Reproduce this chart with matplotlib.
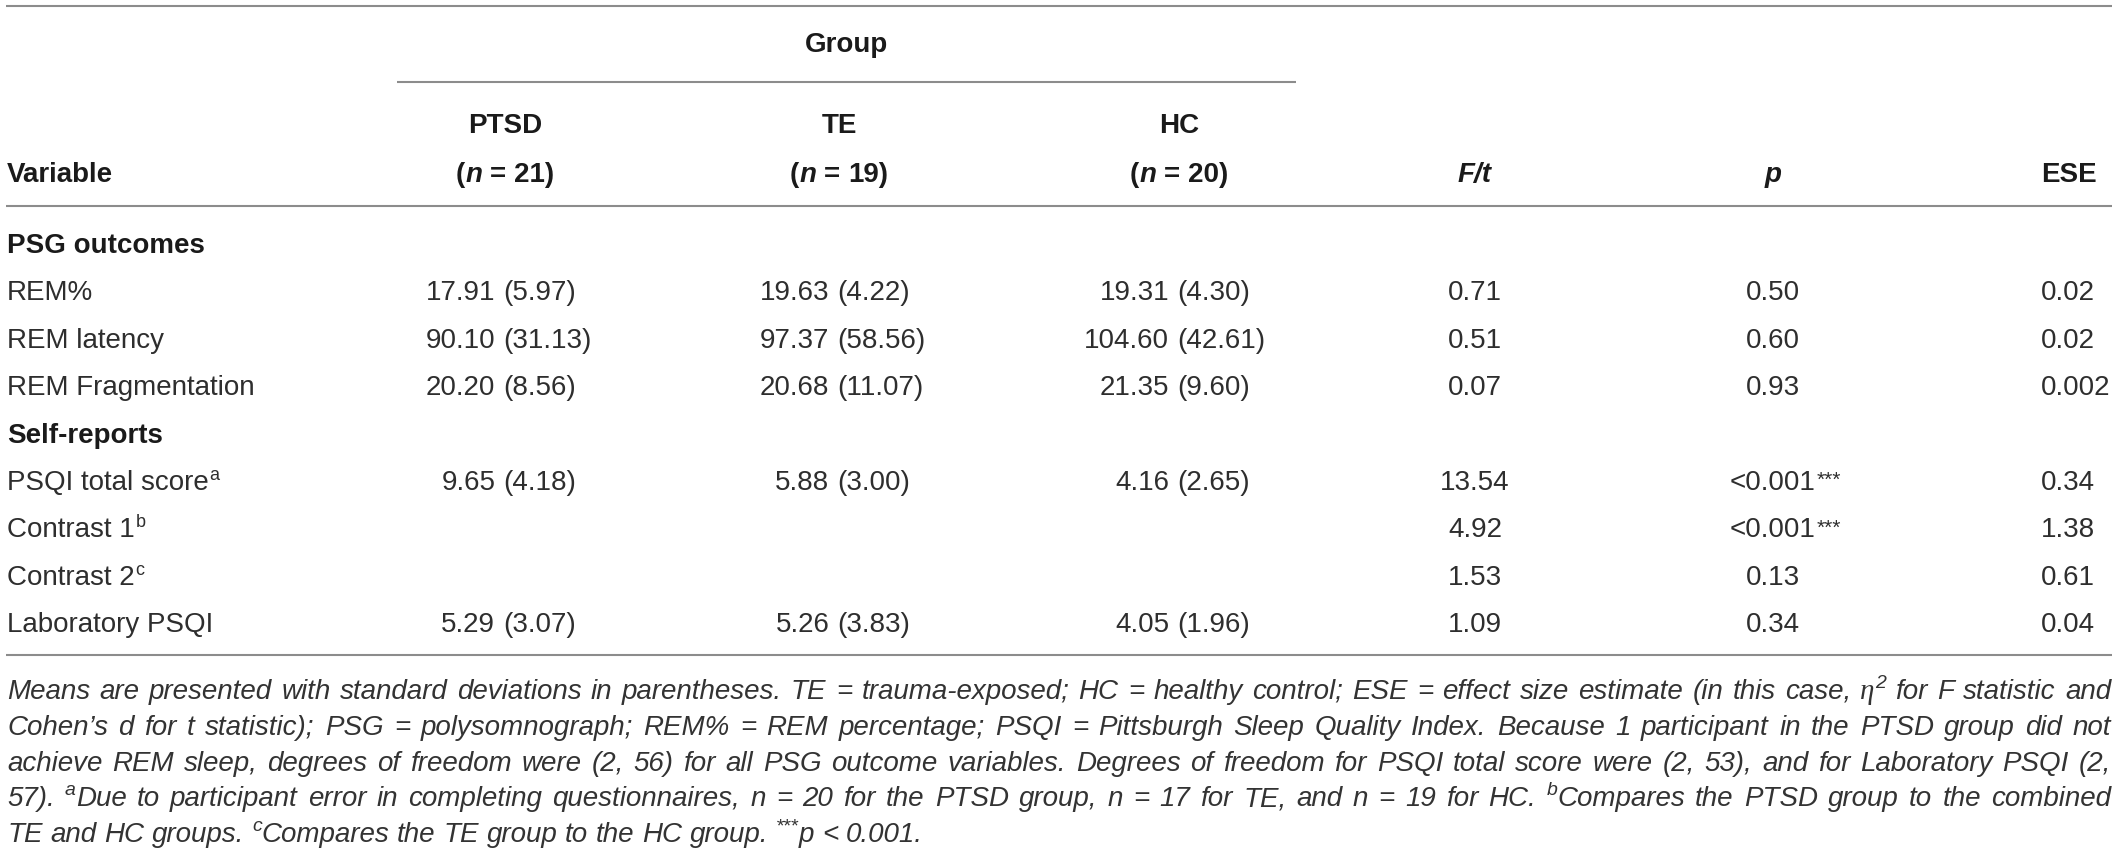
import matplotlib.pyplot as plt

plt.rcParams['font.family'] = ['Liberation Sans', 'DejaVu Sans']

# table content
group_names = ["PTSD", "TE", "HC"]
group_n = ["21", "19", "20"]
sections = ["PSG outcomes", "Self-reports"]
section_rows = [[0, 1, 2], [3, 4, 5, 6]]
row_labels = ["REM%", "REM latency", "REM Fragmentation", "PSQI total score",
              "Contrast 1", "Contrast 2", "Laboratory PSQI"]
row_marks = ["", "", "", "a", "b", "c", ""]
ptsd_mean = ["17.91", "90.10", "20.20", "9.65", "", "", "5.29"]
ptsd_sd = ["5.97", "31.13", "8.56", "4.18", "", "", "3.07"]
te_mean = ["19.63", "97.37", "20.68", "5.88", "", "", "5.26"]
te_sd = ["4.22", "58.56", "11.07", "3.00", "", "", "3.83"]
hc_mean = ["19.31", "104.60", "21.35", "4.16", "", "", "4.05"]
hc_sd = ["4.30", "42.61", "9.60", "2.65", "", "", "1.96"]
f_t = ["0.71", "0.51", "0.07", "13.54", "4.92", "1.53", "1.09"]
p_vals = ["0.50", "0.60", "0.93", "<0.001", "<0.001", "0.13", "0.34"]
p_marks = ["", "", "", "***", "***", "", ""]
ese = ["0.02", "0.02", "0.002", "0.34", "1.38", "0.61", "0.04"]

note_lines = [
    [("Means are presented with standard deviations in parentheses. TE = trauma-exposed; "
      "HC = healthy control; ESE = effect size estimate (in this case, ", "it"),
     ("η", "eta"), ("2", "sup"), (" for F statistic and", "it")],
    [("Cohen’s d for t statistic); PSG = polysomnograph; REM% = REM percentage; PSQI = "
      "Pittsburgh Sleep Quality Index. Because 1 participant in the PTSD group did not", "it")],
    [("achieve REM sleep, degrees of freedom were (2, 56) for all PSG outcome variables. "
      "Degrees of freedom for PSQI total score were (2, 53), and for Laboratory PSQI (2,", "it")],
    [("57). ", "it"), ("a", "sup"),
     ("Due to participant error in completing questionnaires, n = 20 for the PTSD group, "
      "n = 17 for TE, and n = 19 for HC. ", "it"), ("b", "sup"),
     ("Compares the PTSD group to the combined", "it")],
    [("TE and HC groups. ", "it"), ("c", "sup"),
     ("Compares the TE group to the HC group. ", "it"), ("***", "sup"), ("p < 0.001.", "it")],
]

W, H = 2119, 859
fig = plt.figure(figsize=(W / 100, H / 100), dpi=100)
ax = fig.add_axes([0, 0, 1, 1])
ax.set_xlim(0, W)
ax.set_ylim(H, 0)
ax.axis('off')
renderer = fig.canvas.get_renderer()

BODY = dict(fontsize=20, color='#2e2e2e')
BOLD = dict(fontsize=20, color='#1a1a1a', fontweight='bold')
BOLDIT = dict(BOLD, fontstyle='italic')
BSUP = dict(fontsize=13, color='#2e2e2e')
STARS = dict(fontsize=15, color='#2e2e2e')
NOTE = dict(fontsize=20, color='#333333', fontstyle='italic')
NSUP = dict(fontsize=14, color='#333333', fontstyle='italic')
ETA = dict(fontsize=21, color='#333333', fontstyle='italic', family='Liberation Serif')
SP = 0.278 * 20 * 100 / 72
NSP = 0.278 * 20 * 100 / 72
note_style = {"it": (NOTE, 0), "sup": (NSUP, 11), "eta": (ETA, 0)}


def text_w(s, kw):
    t = ax.text(0, 0, s, **kw)
    w = t.get_window_extent(renderer).width
    t.remove()
    return w


def draw_runs(x, y, runs, ha='left'):
    # runs: (text, style, gap before, raise)
    widths = [text_w(s, kw) for s, kw, g, r in runs]
    total = sum(widths) + sum(r[2] for r in runs)
    if ha == 'center':
        x -= total / 2
    elif ha == 'right':
        x -= total
    for (s, kw, g, r), w in zip(runs, widths):
        x += g
        ax.text(x, y - r, s, ha='left', va='baseline', **kw)
        x += w
    return x


def hline(x0, x1, y):
    ax.plot([x0, x1], [y, y], color='#8c8c8c', lw=1.5, solid_capstyle='butt')


# rules
LEFT, RIGHT = 6, 2112
hline(LEFT, RIGHT, 5.5)
hline(397, 1296, 82)
hline(LEFT, RIGHT, 206)
hline(LEFT, RIGHT, 655)

# header
col_x = [505, 839, 1179]
ft_x, p_x, ese_x = 1475, 1773, 2041
ax.text(846, 52, "Group", ha='center', va='baseline', **BOLD)
for name, n, cx in zip(group_names, group_n, col_x):
    ax.text(cx, 133, name, ha='center', va='baseline', **BOLD)
    draw_runs(cx, 182, [("(", BOLD, 0, 0), ("n", BOLDIT, 0, 0),
                        ("=", BOLD, SP, 0), (n + ")", BOLD, SP, 0)], ha='center')
ax.text(7, 182, "Variable", ha='left', va='baseline', **BOLD)
ax.text(ft_x, 182, "F/t", ha='center', va='baseline', **BOLDIT)
ax.text(p_x, 182, "p", ha='center', va='baseline', **BOLDIT)
ax.text(ese_x, 182, "ESE", ha='left', va='baseline', **BOLD)

# body
y = 253
step = 47.4
means = [ptsd_mean, te_mean, hc_mean]
sds = [ptsd_sd, te_sd, hc_sd]
for sec, rows in zip(sections, section_rows):
    ax.text(7, y, sec, ha='left', va='baseline', **BOLD)
    y += step
    for i in rows:
        runs = [(row_labels[i], BODY, 0, 0)]
        if row_marks[i]:
            runs.append((row_marks[i], BSUP, 1, 10))
        draw_runs(7, y, runs)
        for g in range(3):
            if means[g][i]:
                px = col_x[g] - 2
                ax.text(px - SP, y, means[g][i], ha='right', va='baseline', **BODY)
                ax.text(px, y, "(" + sds[g][i] + ")", ha='left', va='baseline', **BODY)
        ax.text(ft_x, y, f_t[i], ha='center', va='baseline', **BODY)
        pw = text_w(p_vals[i], BODY)
        ax.text(p_x, y, p_vals[i], ha='center', va='baseline', **BODY)
        if p_marks[i]:
            ax.text(p_x + pw / 2 + 1, y - 4, p_marks[i], ha='left', va='baseline', **STARS)
        ax.text(ese_x, y, ese[i], ha='left', va='baseline', **BODY)
        y += step

# footnote, justified
NL, NR = 7, 2111
for li, segs in enumerate(note_lines):
    words = [[]]
    for text, kind in segs:
        if kind == "it":
            parts = text.split(' ')
            for k, part in enumerate(parts):
                if k > 0:
                    words.append([])
                if part:
                    words[-1].append((part, kind))
        else:
            words[-1].append((text, kind))
    words = [w for w in words if w]
    wlist = []
    for w in words:
        pieces = [(s, note_style[k][0], note_style[k][1]) for s, k in w]
        wd = sum(text_w(s, kw) for s, kw, r in pieces)
        wlist.append((pieces, wd))
    total = sum(wd for _, wd in wlist)
    if li < len(note_lines) - 1:
        gap = max((NR - NL - total) / (len(wlist) - 1), NSP * 0.6)
    else:
        gap = NSP
    x = NL
    yb = 699 + li * 35.8
    for pieces, wd in wlist:
        draw_runs(x, yb, [(s, kw, 0, r) for s, kw, r in pieces])
        x += wd + gap

fig.savefig("out.png", dpi=100)
